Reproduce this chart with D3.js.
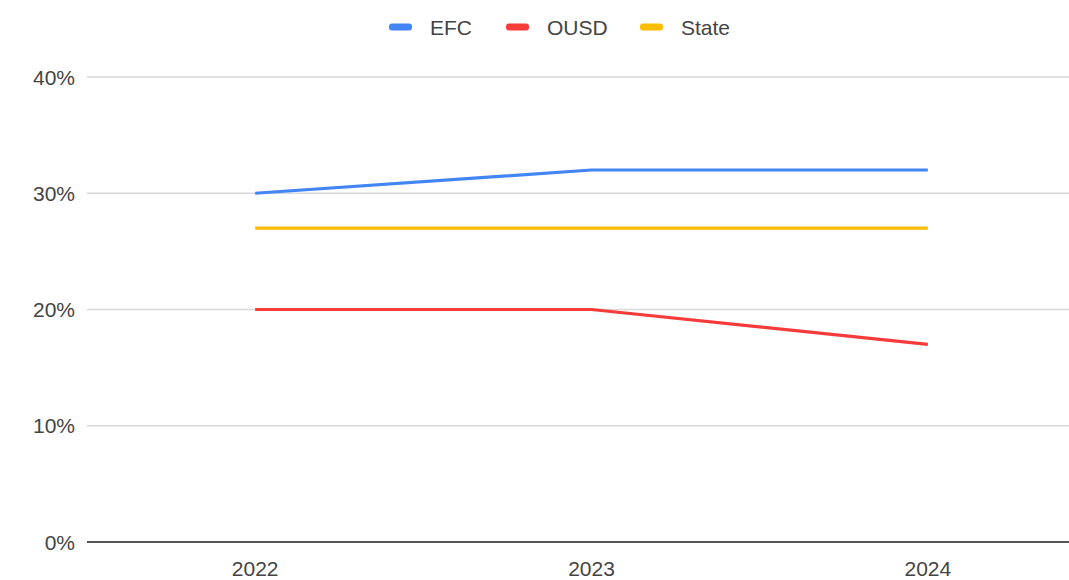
<!DOCTYPE html>
<html>
<head>
<meta charset="utf-8">
<script src="https://cdn.jsdelivr.net/npm/d3@7"></script>
<style>
  body { margin: 0; background: #fff; }
  text { font-family: Arial, "Liberation Sans", sans-serif; }
</style>
</head>
<body>
<div id="chart"></div>
<script>
// Data
const years = ["2022", "2023", "2024"];
const seriesNames = ["EFC", "OUSD", "State"];
const efcValues = [30, 32, 32];
const ousdValues = [20, 20, 17];
const stateValues = [27, 27, 27];
const yTicks = [0, 10, 20, 30, 40];
const colors = ["#4285f4", "#f73b3b", "#fbbc04"];

const series = [
  { name: seriesNames[0], values: efcValues, color: colors[0] },
  { name: seriesNames[1], values: ousdValues, color: colors[1] },
  { name: seriesNames[2], values: stateValues, color: colors[2] }
];

const W = 1069, H = 580;
const plotLeft = 87, plotTop = 77, plotBottom = 542;

const svg = d3.select("#chart")
  .append("svg")
  .attr("width", W)
  .attr("height", H);

// Scales
const x = d3.scalePoint()
  .domain(years)
  .range([87, 1096])
  .padding(0.5);

const y = d3.scaleLinear()
  .domain([0, 40])
  .range([plotBottom, plotTop]);

// Gridlines
svg.append("g")
  .selectAll("line")
  .data(yTicks.filter(d => d > 0))
  .join("line")
  .attr("x1", plotLeft)
  .attr("x2", W)
  .attr("y1", d => y(d))
  .attr("y2", d => y(d))
  .attr("stroke", "#d9d9d9")
  .attr("stroke-width", 1.3);

// Y tick labels
svg.append("g")
  .selectAll("text")
  .data(yTicks)
  .join("text")
  .attr("x", 75)
  .attr("y", d => y(d))
  .attr("dy", "0.36em")
  .attr("text-anchor", "end")
  .attr("font-size", 21)
  .attr("fill", "#444")
  .text(d => d + "%");

// Baseline
svg.append("line")
  .attr("x1", plotLeft)
  .attr("x2", W)
  .attr("y1", y(0))
  .attr("y2", y(0))
  .attr("stroke", "#555")
  .attr("stroke-width", 2);

// X labels
svg.append("g")
  .selectAll("text")
  .data(years)
  .join("text")
  .attr("x", d => x(d))
  .attr("y", 568)
  .attr("dy", "0.36em")
  .attr("text-anchor", "middle")
  .attr("font-size", 21)
  .attr("fill", "#444")
  .text(d => d);

// Lines
const line = d3.line()
  .x((d, i) => x(years[i]))
  .y(d => y(d));

svg.append("g")
  .selectAll("path")
  .data(series)
  .join("path")
  .attr("d", d => line(d.values))
  .attr("fill", "none")
  .attr("stroke", d => d.color)
  .attr("stroke-width", 3.2);

// Legend
const legendX = [389, 506, 640];
const legend = svg.append("g")
  .selectAll("g")
  .data(series)
  .join("g")
  .attr("transform", (d, i) => `translate(${legendX[i]},27)`);

legend.append("rect")
  .attr("x", 0)
  .attr("y", -3.5)
  .attr("width", 23)
  .attr("height", 7)
  .attr("rx", 3)
  .attr("fill", d => d.color);

legend.append("text")
  .attr("x", 41)
  .attr("dy", "0.36em")
  .attr("font-size", 21)
  .attr("fill", "#444")
  .text(d => d.name);
</script>
</body>
</html>
